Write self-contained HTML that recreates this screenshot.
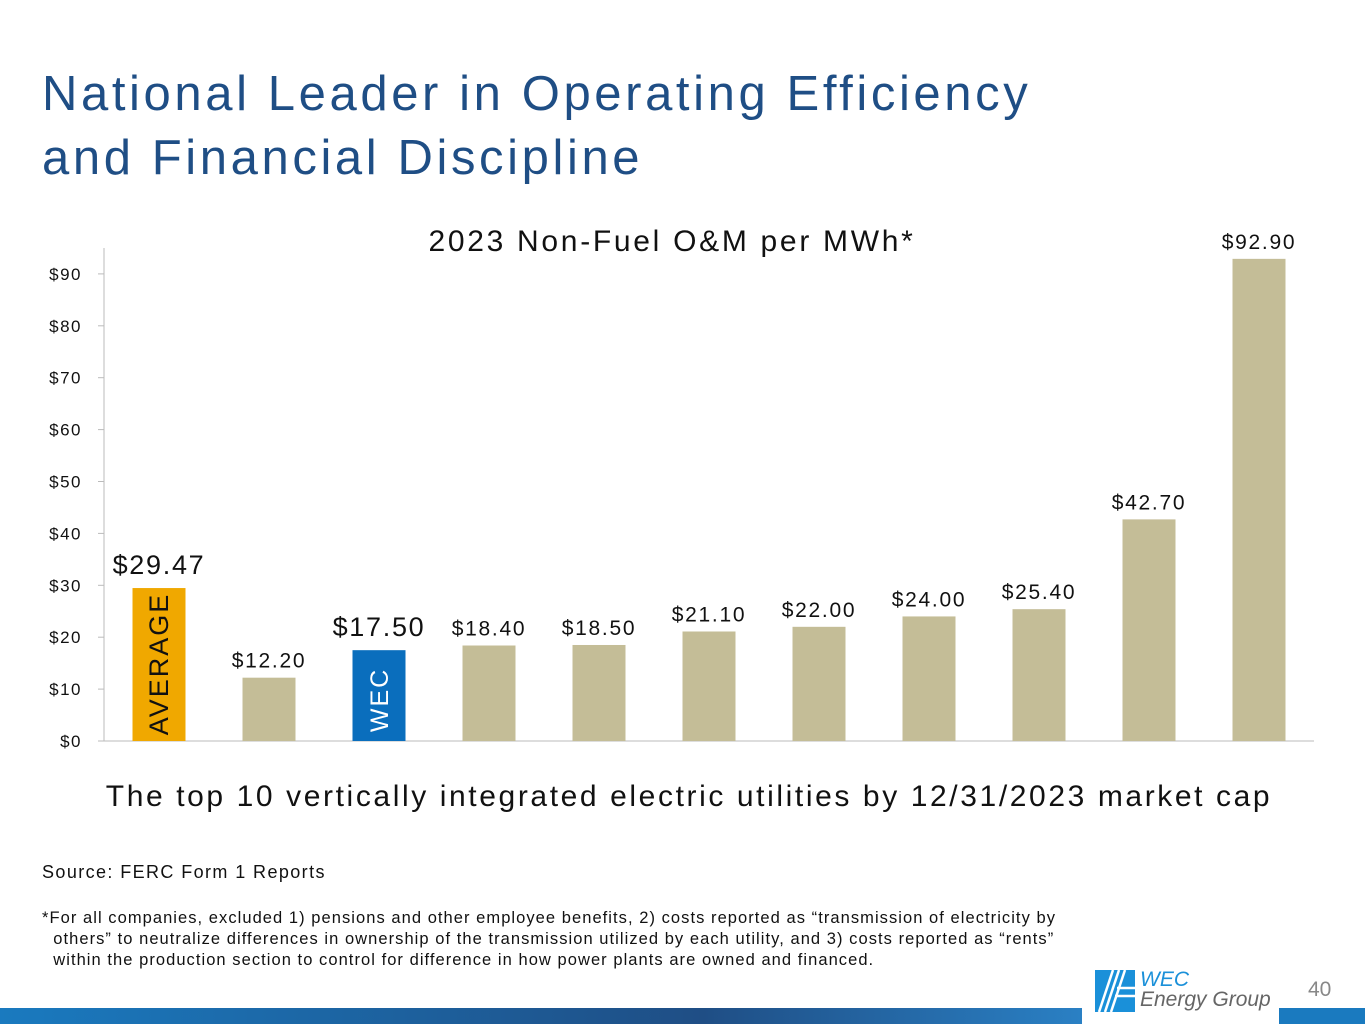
<!DOCTYPE html>
<html><head><meta charset="utf-8"><style>
body{margin:0;width:1365px;height:1024px;background:#fff;position:relative;overflow:hidden;font-family:"Liberation Sans",sans-serif}
.a{position:absolute}
</style></head><body>
<div class="a" style="left:42px;top:62px;font-size:49px;line-height:64px;color:#1f4e85;letter-spacing:3.6px">National Leader in Operating Efficiency<br>and Financial Discipline</div>
<svg class="a" style="left:0;top:0" width="1365" height="1024">
<text x="672" y="251" text-anchor="middle" font-size="30" fill="#111" letter-spacing="2.7">2023 Non-Fuel O&amp;M per MWh*</text>
<g id="ax"></g><g id="bars"></g>
<text x="689" y="806" text-anchor="middle" font-size="30" fill="#111" letter-spacing="2.6">The top 10 vertically integrated electric utilities by 12/31/2023 market cap</text>
</svg>
<div class="a" style="left:42px;top:862px;font-size:18px;letter-spacing:1.4px;color:#111">Source: FERC Form 1 Reports</div>
<div class="a" style="left:42px;top:908px;font-size:16.5px;letter-spacing:1.05px;line-height:21px;color:#111;white-space:nowrap">*For all companies, excluded 1) pensions and other employee benefits, 2) costs reported as “transmission of electricity by<br>&nbsp;&nbsp;others” to neutralize differences in ownership of the transmission utilized by each utility, and 3) costs reported as “rents”<br>&nbsp;&nbsp;within the production section to control for difference in how power plants are owned and financed.</div>
<div class="a" style="left:0;top:1008px;width:1082px;height:16px;background:linear-gradient(90deg,#1a7abf,#1f4e85 65%,#2a80c4)"></div>
<div class="a" style="left:1279px;top:1008px;width:86px;height:16px;background:#1a7abf"></div>
<svg class="a" style="left:1095px;top:970px" width="40" height="42">
<rect x="0" y="0" width="40" height="42" fill="#1a90d9"/>
<g stroke="#fff" stroke-width="2.5"><line x1="4" y1="42" x2="18" y2="0"/><line x1="10" y1="42" x2="24" y2="0"/><line x1="16" y1="42" x2="30" y2="0"/><line x1="22" y1="18" x2="40" y2="18"/><line x1="20" y1="26" x2="40" y2="26"/></g></svg>
<div class="a" style="left:1140px;top:970px;font-size:21px;line-height:20px;font-style:italic;color:#1a90d9">WEC<br><span style="color:#666">Energy Group</span></div>
<div class="a" style="left:1308px;top:978px;font-size:21px;color:#888">40</div>
<script>
const categories=["AVERAGE","U1","WEC","U3","U4","U5","U6","U7","U8","U9","U10"];
const values=[29.47,12.20,17.50,18.40,18.50,21.10,22.00,24.00,25.40,42.70,92.90];
const labels=["$29.47","$12.20","$17.50","$18.40","$18.50","$21.10","$22.00","$24.00","$25.40","$42.70","$92.90"];
const ticks=[0,10,20,30,40,50,60,70,80,90];
const NS="http://www.w3.org/2000/svg";
const X0=104,X1=1314,Y0=741,PX=5.19;
const y=v=>Y0-v*PX, xc=i=>X0+(X1-X0)/categories.length*(i+0.5);
function mk(t,a,p){const e=document.createElementNS(NS,t);for(const k in a)e.setAttribute(k,a[k]);p.appendChild(e);return e}
const ax=document.getElementById('ax'),bg=document.getElementById('bars');
const yl=mk('line',{x1:X0,x2:X0,y1:248,y2:Y0,stroke:'#bbb'},ax);


const xl=mk('line',{x1:X0-6,x2:X1,y1:Y0,y2:Y0,stroke:'#bbb'},ax);


ticks.forEach(t=>{mk('line',{x1:X0-6,x2:X0,y1:y(t),y2:y(t),stroke:'#bbb'},ax);
const tx=mk('text',{x:82,y:y(t)+6,'text-anchor':'end','font-size':17,'letter-spacing':1.5,fill:'#111'},ax);tx.textContent='$'+t;

});
values.forEach((v,i)=>{const c=i==0?'#f0a800':i==2?'#0a6ebd':'#c4bd97';
const r=mk('rect',{x:xc(i)-26.5,y:y(v),width:53,height:v*PX,fill:c},bg);


const big=i<3&&i!=1;
const t=mk('text',{x:xc(i),y:y(v)-(big?14:10),'text-anchor':'middle','font-size':big?27:21,'letter-spacing':1.7,fill:'#111'},bg);t.textContent=labels[i];


if(i==0||i==2){const w=mk('text',{x:0,y:0,'text-anchor':'middle','font-size':i==0?27:25,'letter-spacing':2,fill:i==0?'#111':'#fff',transform:`translate(${xc(i)+9},${i==0?664:700}) rotate(-90)`},bg);w.textContent=categories[i];

}
});
</script>
</body></html>
